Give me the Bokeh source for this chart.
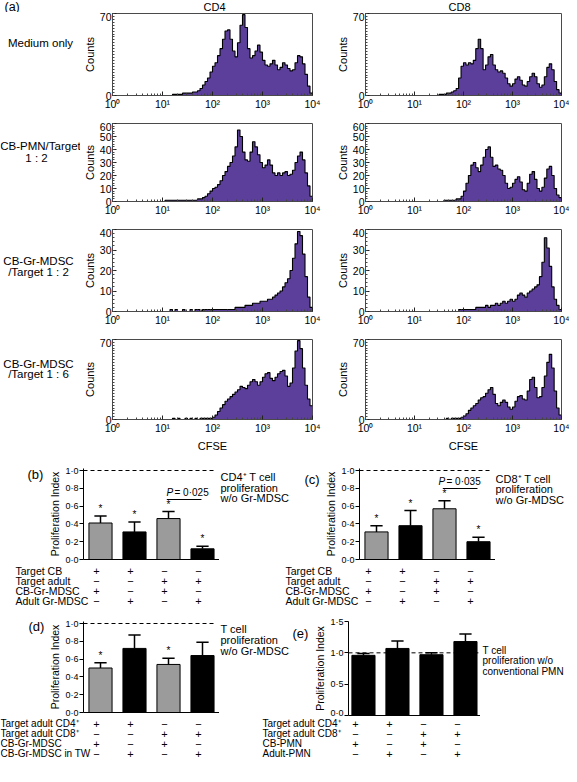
import numpy as np
from bokeh.plotting import figure
from bokeh.models import FixedTicker, Range1d, Grid
from bokeh.layouts import column, row
from bokeh.embed import file_html
from bokeh.resources import INLINE
from bokeh.core.properties import value

FONT = "Liberation Sans"
PURPLE = "#5b3f9b"
FRAME = "#4a4a4a"
GREY = "#9b9b9b"

# ---------------- data: CFSE histograms (bins of 0.05 decade from 10^1 to 10^4) ----------------
log_start = 1.0
log_step = 0.05

cd4_medium = [0, 0, 0, 0, 1, 1, 1, 1, 2, 2,
              2, 2, 3, 3, 4, 6, 9, 12, 15, 20,
              25, 28, 34, 40, 48, 55, 56, 48, 38, 33,
              45, 60, 69, 58, 40, 32, 34, 38, 43, 37,
              30, 26, 25, 27, 30, 26, 22, 24, 28, 26,
              23, 21, 22, 28, 34, 33, 27, 18, 8, 2]
cd8_medium = [0, 0, 0, 0, 0, 0, 0, 0, 0, 0,
              1, 1, 1, 2, 2, 3, 4, 6, 15, 25,
              28, 26, 28, 27, 30, 40, 48, 40, 22, 26,
              33, 35, 26, 22, 20, 21, 19, 15, 10, 8,
              10, 14, 16, 13, 9, 8, 12, 16, 19, 16,
              10, 7, 9, 16, 24, 27, 22, 12, 5, 2]
cd4_pmn = [0, 1, 1, 1, 1, 1, 1, 1, 1, 1,
           1, 1, 1, 1, 2, 2, 3, 4, 6, 8,
           10, 11, 13, 16, 20, 23, 27, 30, 35, 42,
           55, 50, 38, 32, 31, 38, 46, 42, 36, 30,
           26, 28, 32, 28, 22, 20, 22, 20, 22, 23,
           20, 21, 24, 30, 35, 38, 32, 22, 12, 4]
cd8_pmn = [0, 0, 0, 0, 0, 0, 0, 0, 0, 0,
           0, 0, 1, 1, 1, 1, 1, 2, 2, 4,
           8, 14, 20, 28, 30, 26, 23, 28, 34, 40,
           42, 34, 27, 28, 25, 24, 20, 14, 10, 11,
           14, 17, 19, 15, 9, 8, 14, 21, 23, 17,
           10, 8, 11, 18, 25, 27, 20, 10, 5, 3]
cd4_mdsc_1_2 = [0, 0, 0, 1, 0, 1, 0, 0, 1, 0,
                0, 1, 0, 1, 1, 0, 1, 1, 1, 1,
                1, 1, 1, 1, 1, 1, 1, 1, 1, 2,
                2, 2, 2, 3, 3, 3, 4, 4, 4, 5,
                5, 5, 6, 6, 7, 8, 9, 10, 12, 14,
                16, 20, 26, 33, 39, 37, 28, 17, 7, 2]
cd8_mdsc_1_2 = [0, 0, 0, 0, 0, 0, 0, 0, 0, 0,
                0, 0, 0, 0, 0, 0, 0, 0, 1, 1,
                1, 1, 1, 1, 1, 2, 2, 2, 2, 3,
                2, 3, 3, 4, 3, 4, 5, 4, 5, 6,
                5, 6, 8, 9, 8, 7, 9, 10, 11, 12,
                13, 17, 24, 36, 31, 22, 12, 6, 3, 1]
cd4_mdsc_1_6 = [0, 0, 0, 0, 1, 0, 1, 0, 0, 1,
                0, 1, 0, 1, 0, 1, 1, 1, 1, 1,
                2, 4, 7, 10, 13, 16, 18, 20, 22, 24,
                26, 29, 28, 27, 30, 33, 35, 33, 30, 33,
                37, 40, 41, 36, 34, 37, 40, 42, 43, 38,
                29, 32, 45, 60, 69, 62, 45, 30, 18, 12]
cd8_mdsc_1_6 = [0, 0, 0, 0, 0, 0, 0, 0, 0, 0,
                0, 0, 0, 1, 0, 1, 1, 1, 1, 2,
                3, 5, 8, 10, 12, 14, 17, 19, 20, 23,
                26, 28, 22, 14, 12, 15, 17, 15, 11, 9,
                11, 16, 20, 21, 18, 17, 25, 35, 37, 28,
                19, 20, 28, 38, 50, 57, 45, 25, 10, 4]

col_titles = ["CD4", "CD8"]
row_labels = [["Medium only"], ["CB-PMN/Target", "1 : 2"],
              ["CB-Gr-MDSC", "/Target 1 : 2"], ["CB-Gr-MDSC", "/Target 1 : 6"]]
hist_ymax = [70, 60, 40, 70]
hist_yticks = [[0, 70], [0, 10, 20, 30, 40, 50, 60], [0, 10, 20, 30, 40], [0, 70]]
decade_ticks = [1, 10, 100, 1000, 10000]
decade_labels = ["10⁰", "10¹", "10²", "10³", "10⁴"]

# ---------------- data: proliferation index bar charts ----------------
bar_pos = [1, 2, 3, 4]
b_vals = [0.41, 0.31, 0.46, 0.12]
b_errs = [0.08, 0.11, 0.08, 0.03]
b_stars = ["*", "*", "*", "*"]
c_vals = [0.31, 0.38, 0.57, 0.20]
c_errs = [0.07, 0.17, 0.09, 0.05]
c_stars = ["*", "*", "*", "*"]
d_vals = [0.50, 0.72, 0.54, 0.64]
d_errs = [0.06, 0.15, 0.07, 0.15]
d_stars = ["*", "", "*", ""]
e_vals = [0.96, 1.07, 0.97, 1.18]
e_errs = [0.03, 0.12, 0.03, 0.12]
e_stars = ["", "", "", ""]
gb_colors = [GREY, "black", GREY, "black"]
e_colors = ["black", "black", "black", "black"]

index_ticks = [0.0, 0.2, 0.4, 0.6, 0.8, 1.0]
index_labels = ["0·0", "0·2", "0·4", "0·6", "0·8", "1·0"]
e_ticks = [0.0, 0.5, 1.0, 1.5]
e_labels = ["0·0", "0·5", "1·0", "1·5"]

b_note = ["CD4⁺ T cell", "proliferation", "w/o Gr-MDSC"]
c_note = ["CD8⁺ T cell", "proliferation", "w/o Gr-MDSC"]
d_note = ["T cell", "proliferation", "w/o Gr-MDSC"]
e_note = ["T cell", "proliferation w/o", "conventional PMN"]
b_pvalue = "= 0·025"
c_pvalue = "= 0·035"

bc_rows = ["Target CB", "Target adult", "CB-Gr-MDSC", "Adult Gr-MDSC"]
d_rows = ["Target adult CD4⁺", "Target adult CD8⁺", "CB-Gr-MDSC", "CB-Gr-MDSC in TW"]
e_rows = ["Target adult CD4⁺", "Target adult CD8⁺", "CB-PMN", "Adult-PMN"]
signs = [["+", "+", "−", "−"],
         ["−", "−", "+", "+"],
         ["+", "−", "+", "−"],
         ["−", "+", "−", "+"]]

PPU = 34.0  # pixels per bar slot


def to_data(g, cx, cy):
    fx = (cx - g["L"]) / g["W"]
    fy = (g["T"] + g["H"] - cy) / g["H"]
    x = g["x0"] + fx * (g["x1"] - g["x0"])
    y = g["y0"] + fy * (g["y1"] - g["y0"])
    return float(x), float(y)


def no_grid(p):
    for gr in p.select(type=Grid):
        gr.visible = False


def plain_fig(w, h):
    p = figure(x_range=Range1d(0, w), y_range=Range1d(h, 0), width=w, height=h,
               min_border=0, x_axis_location=None, y_axis_location=None,
               toolbar_location=None, output_backend="svg")
    no_grid(p)
    p.outline_line_color = None
    p.background_fill_color = "white"
    p.border_fill_color = "white"
    return p


def text_fig(w, h, items):
    """items: (x, y, text, size, align, style) in pixels from top-left."""
    p = plain_fig(w, h)
    for x, y, text, size, align, style in items:
        p.text(x=[x], y=[y], text=[text], text_font=value(FONT), text_font_size=size,
               text_align=align, text_baseline="middle", text_font_style=style,
               text_color="black")
    return p


def base_fig(g, log=False):
    kw = dict(x_range=Range1d(g["x0"], g["x1"]), y_range=Range1d(g["y0"], g["y1"]),
              frame_width=g["W"], frame_height=g["H"],
              min_border_left=g["L"], min_border_right=g["R"],
              min_border_top=g["T"], min_border_bottom=g["B"],
              toolbar_location=None, output_backend="svg")
    if log:
        kw["x_axis_type"] = "log"
    p = figure(**kw)
    no_grid(p)
    p.background_fill_color = "white"
    p.border_fill_color = "white"
    return p


def hist_fig(g, counts, yticks, yminor, xlabel=None):
    p = base_fig(g, log=True)
    edges = 10 ** (log_start + log_step * np.arange(len(counts) + 1))
    top = list(counts) + [counts[-1]]
    p.varea_step(x=edges, y1=0, y2=top, step_mode="after", fill_color=PURPLE)
    p.step(x=edges, y=top, mode="after", line_color="black", line_width=1.1)
    p.outline_line_color = FRAME
    p.outline_line_width = 1
    p.xaxis.ticker = FixedTicker(ticks=decade_ticks,
                                 minor_ticks=[m * d for d in decade_ticks[:-1] for m in range(2, 10)])
    p.xaxis.major_label_overrides = dict(zip(decade_ticks, decade_labels))
    p.yaxis.ticker = FixedTicker(ticks=yticks, minor_ticks=yminor)
    for ax in (p.xaxis[0], p.yaxis[0]):
        ax.axis_line_color = FRAME
        ax.major_tick_line_color = "#222222"
        ax.minor_tick_line_color = "#444444"
        ax.major_tick_in = 4
        ax.major_tick_out = 0
        ax.minor_tick_in = 2
        ax.minor_tick_out = 0
        ax.major_label_text_font = FONT
        ax.major_label_text_font_size = "10.5px"
        ax.major_label_text_color = "black"
        ax.major_label_standoff = 1
        ax.axis_label_text_font = FONT
        ax.axis_label_text_font_style = "normal"
        ax.axis_label_text_font_size = "11px"
        ax.axis_label_text_color = "black"
        ax.axis_label_standoff = 1
    p.xaxis.major_label_standoff = 2
    p.xaxis.axis_label_standoff = 3
    p.yaxis.axis_label = "Counts"
    if xlabel:
        p.xaxis.axis_label = xlabel
    return p


# ---------------- header + histogram grid ----------------
header = text_fig(561, 12, [(4, 6, "(a)", "12.5px", "left", "normal"),
                            (214, 6, col_titles[0], "11px", "center", "normal"),
                            (459, 6, col_titles[1], "11px", "center", "normal")])

hist_data = [(cd4_medium, cd8_medium), (cd4_pmn, cd8_pmn),
             (cd4_mdsc_1_2, cd8_mdsc_1_2), (cd4_mdsc_1_6, cd8_mdsc_1_6)]
row_fh = [82, 78, 82, 80]
row_bt = [1, 1, 1, 1]
row_bb = [27, 27, 27, 36]
yminors = [[2.5 * i for i in range(29)], list(range(0, 61, 2)), list(range(0, 41, 2)),
           [2.5 * i for i in range(29)]]
row_label_pos = [[(40, 39)], [(40, 30), (36, 47)], [(38, 42), (38, 57)], [(38, 36), (38, 51)]]
LABEL_W = 80

layout_rows = [header]
for r in range(4):
    h_total = row_bt[r] + row_fh[r] + row_bb[r]
    items = [(lx, ly, t, "11.5px", "center", "normal")
             for t, (lx, ly) in zip(row_labels[r], row_label_pos[r])]
    figs = [text_fig(LABEL_W, h_total, items)]
    for c in range(2):
        if c == 0:
            g = dict(L=29, W=200, R=21)
        else:
            g = dict(L=27, W=196, R=8)
        g.update(T=row_bt[r], H=row_fh[r], B=row_bb[r], x0=1, x1=1e4, y0=0, y1=hist_ymax[r])
        figs.append(hist_fig(g, hist_data[r][c], hist_yticks[r], yminors[r],
                             xlabel="CFSE" if r == 3 else None))
    layout_rows.append(row(*figs))


# ---------------- bar charts ----------------
def bar_fig(g, vals, errs, colors, stars, yt, yl, dash_end, star_gap):
    p = base_fig(g)
    p.outline_line_color = None
    p.vbar(x=bar_pos, width=0.68, top=vals, bottom=0, fill_color=colors,
           line_color="black", line_width=1)
    tops = [v + e for v, e in zip(vals, errs)]
    p.segment(x0=bar_pos, y0=vals, x1=bar_pos, y1=tops, line_color="black", line_width=1.5)
    p.segment(x0=[x - 0.18 for x in bar_pos], y0=tops, x1=[x + 0.18 for x in bar_pos], y1=tops,
              line_color="black", line_width=1.5)
    p.segment(x0=[g["x0"]], y0=[1.0], x1=[dash_end], y1=[1.0], line_color="black",
              line_width=1, line_dash="4 3")
    p.text(x=bar_pos, y=[t + star_gap for t in tops], text=stars, text_font=value(FONT),
           text_font_size="10px", text_align="center", text_baseline="bottom", text_color="black")
    p.yaxis.ticker = FixedTicker(ticks=yt)
    p.yaxis.major_label_overrides = dict(zip(yt, yl))
    p.yaxis.major_tick_in = 0
    p.yaxis.major_tick_out = 4
    p.yaxis.minor_tick_line_color = None
    p.yaxis.major_label_standoff = 1
    p.yaxis.major_label_text_font = FONT
    p.yaxis.major_label_text_font_size = "9px"
    p.yaxis.major_label_text_color = "black"
    p.yaxis.axis_label = "Proliferation Index"
    p.yaxis.axis_label_text_font = FONT
    p.yaxis.axis_label_text_font_style = "normal"
    p.yaxis.axis_label_text_font_size = "10.5px"
    p.yaxis.axis_label_text_color = "black"
    p.yaxis.axis_label_standoff = 1
    p.xaxis.ticker = FixedTicker(ticks=[])
    p.xaxis.major_tick_in = 0
    p.xaxis.major_tick_out = 0
    p.xaxis.minor_tick_line_color = None
    p.xaxis.major_label_text_font_size = "0px"
    p.xaxis.major_label_standoff = 0
    for ax in (p.xaxis[0], p.yaxis[0]):
        ax.axis_line_color = "black"
        ax.major_tick_line_color = "black"
    return p


def add_pvalue(p, g, cx, cy, line_cy, pv):
    x, y = to_data(g, cx, cy)
    x2, _ = to_data(g, cx + 8, cy)
    p.text(x=[x], y=[y], text=["P"], text_font=value(FONT), text_font_size="10px",
           text_font_style="italic", text_baseline="middle", text_align="left", text_color="black")
    p.text(x=[x2], y=[y], text=[pv], text_font=value(FONT), text_font_size="10px",
           text_baseline="middle", text_align="left", text_color="black")
    _, y_line = to_data(g, 0, line_cy)
    p.segment(x0=[bar_pos[2] - 0.05], y0=[y_line], x1=[bar_pos[3] - 0.03], y1=[y_line],
              line_color="black", line_width=1)


gb = dict(L=33, T=13, W=136, H=91, R=0, B=5, x0=0.5, x1=0.5 + 136 / PPU, y0=0, y1=91 / 89)
gc = dict(gb)
gd = dict(gb)
ge = dict(L=33, T=10, W=132, H=94, R=0, B=5, x0=0.56, x1=0.56 + 132 / PPU, y0=0, y1=1.5)
BAR_H = 109

pb = bar_fig(gb, b_vals, b_errs, gb_colors, b_stars, index_ticks, index_labels, 4.35, 0.02)
pc = bar_fig(gc, c_vals, c_errs, gb_colors, c_stars, index_ticks, index_labels, 4.33, 0.02)
pd = bar_fig(gd, d_vals, d_errs, gb_colors, d_stars, index_ticks, index_labels, 4.35, 0.02)
pe = bar_fig(ge, e_vals, e_errs, e_colors, e_stars, e_ticks, e_labels, 4.38, 0.02)

add_pvalue(pb, gb, 116, 37, 44, b_pvalue)
add_pvalue(pc, gc, 112, 26, 33, c_pvalue)


def note_items(x, ys, note, size="11px"):
    return [(x, y, t, size, "left", "normal") for y, t in zip(ys, note)]


b_left = text_fig(46, BAR_H, [(27, 7, "(b)", "13px", "left", "normal")])
b_right = text_fig(70, BAR_H, note_items(1, [10, 23, 35], b_note))
c_left = text_fig(33, BAR_H, [(15, 13, "(c)", "13px", "left", "normal")])
c_right = text_fig(74, BAR_H, note_items(0, [13, 25, 38], c_note))
d_left = text_fig(46, BAR_H, [(28, 6, "(d)", "13px", "left", "normal")])
d_right = text_fig(70, BAR_H, note_items(1, [9, 22, 35], d_note))
e_left = text_fig(22, BAR_H, [(3, 14, "(e)", "13px", "left", "normal")])
e_right = text_fig(89, BAR_H, note_items(2, [35, 47, 60], e_note, "10px"))


# ---------------- tables under bar charts ----------------
def table_fig(groups):
    p = plain_fig(561, 44)
    row_y = [6, 16, 26, 36]
    for label_x, col_x, labels, fsize in groups:
        p.text(x=[label_x] * 4, y=row_y, text=labels, text_font=value(FONT),
               text_font_size=fsize, text_baseline="middle", text_align="left", text_color="black")
        for ri, srow in enumerate(signs):
            p.text(x=col_x, y=[row_y[ri]] * 4, text=srow, text_font=value(FONT),
                   text_font_size="11px", text_baseline="middle", text_align="center",
                   text_color="black")
    return p


def cols(offset, g):
    return [offset + g["L"] + (x - g["x0"]) * PPU for x in bar_pos]


t_bc = table_fig([(15, cols(46, gb), bc_rows, "10.5px"), (285, cols(285 + 33, gc), bc_rows, "10.5px")])
t_de = table_fig([(0, cols(46, gd), d_rows, "10px"), (262, cols(285 + 22, ge), e_rows, "10px")])

layout = column(*layout_rows,
                row(b_left, pb, b_right, c_left, pc, c_right), t_bc,
                row(d_left, pd, d_right, e_left, pe, e_right), t_de)

with open("out.html", "w") as f:
    f.write(file_html(layout, INLINE))
